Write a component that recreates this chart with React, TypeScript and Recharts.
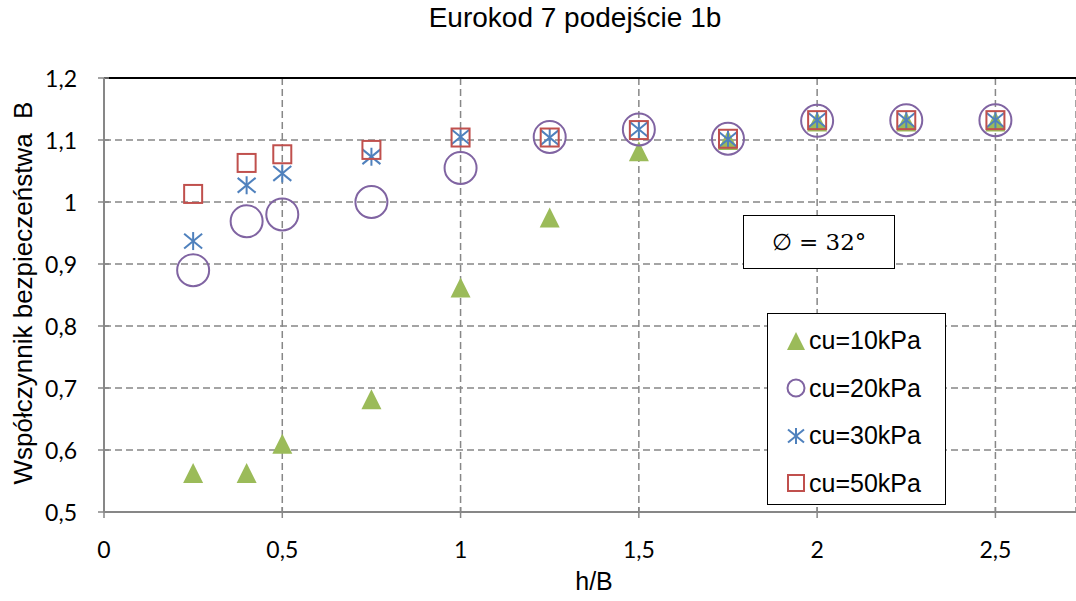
import {
  ScatterChart, Scatter, XAxis, YAxis, CartesianGrid, ReferenceLine,
} from 'recharts';

const hOverB = [0.25, 0.4, 0.5, 0.75, 1, 1.25, 1.5, 1.75, 2, 2.25, 2.5];
const cu10 = [0.563, 0.563, 0.61, 0.682, 0.862, 0.975, 1.082, 1.1, 1.13, 1.13, 1.13];
const cu20 = [0.89, 0.969, 0.98, 1.0, 1.055, 1.105, 1.117, 1.102, 1.131, 1.132, 1.132];
const cu30 = [0.937, 1.027, 1.046, 1.073, 1.105, 1.104, 1.117, 1.101, 1.132, 1.132, 1.132];
const cu50 = [1.013, 1.063, 1.077, 1.084, 1.104, 1.104, 1.116, 1.102, 1.132, 1.132, 1.132];

const xTicks = [0, 0.5, 1, 1.5, 2, 2.5];
const yTicks = [0.5, 0.6, 0.7, 0.8, 0.9, 1, 1.1, 1.2];

const GREEN = '#9BBB59';
const PURPLE = '#8064A2';
const BLUE = '#4F81BD';
const RED = '#C0504D';
const AXIS = '#878787';
const TICK_FONT = 'Lato, "Open Sans", sans-serif';
const ARIAL = '"Liberation Sans", Arial, sans-serif';

const toPoints = (ys: number[]) => hOverB.map((x, i) => ({ x, y: ys[i] }));
const fmt = (v: number) => String(v).replace('.', ',');

const Triangle = ({ cx, cy, s = 20 }: any) => (
  <path d={`M${cx},${cy - s / 2} L${cx + s / 2},${cy + s / 2} L${cx - s / 2},${cy + s / 2} Z`} fill={GREEN} />
);
const Circle = ({ cx, cy, r = 16 }: any) => (
  <circle cx={cx} cy={cy} r={r} fill="none" stroke={PURPLE} strokeWidth={2} />
);
// vertical bar plus an X, like the Excel star marker
const Star = ({ cx, cy, s = 9 }: any) => (
  <g stroke={BLUE} strokeWidth={2}>
    <line x1={cx} y1={cy - s} x2={cx} y2={cy + s} />
    <line x1={cx - s} y1={cy - s * 0.82} x2={cx + s} y2={cy + s * 0.82} />
    <line x1={cx - s} y1={cy + s * 0.82} x2={cx + s} y2={cy - s * 0.82} />
  </g>
);
const Square = ({ cx, cy, s = 18 }: any) => (
  <rect x={cx - s / 2} y={cy - s / 2} width={s} height={s} fill="none" stroke={RED} strokeWidth={2} />
);

const YTick = ({ x, y, payload }: any) => (
  <g>
    <line x1={x - 6} x2={x + 5} y1={y} y2={y} stroke={AXIS} strokeWidth={1.5} />
    <text x={x - 27} y={y} textAnchor="end" dominantBaseline="central" fontSize={23} fontFamily={TICK_FONT} fill="#000">
      {fmt(payload.value)}
    </text>
  </g>
);

const XTick = ({ x, y, payload }: any) => (
  <g>
    <line x1={x} x2={x} y1={y - 5} y2={y + 6} stroke={AXIS} strokeWidth={1.5} />
    <text x={x} y={y + 37} textAnchor="middle" dominantBaseline="central" fontSize={23} fontFamily={TICK_FONT} fill="#000">
      {fmt(payload.value)}
    </text>
  </g>
);

const legendItems = [
  { name: 'cu=10kPa', Icon: () => <Triangle cx={11} cy={11} s={18} /> },
  { name: 'cu=20kPa', Icon: () => <Circle cx={11} cy={11} r={8.5} /> },
  { name: 'cu=30kPa', Icon: () => <Star cx={11} cy={11} s={8} /> },
  { name: 'cu=50kPa', Icon: () => <Square cx={11} cy={11} s={16} /> },
];

export default function App() {
  return (
    <div style={{ position: 'absolute', left: 0, top: 0, width: 1076, height: 601, background: '#fff', overflow: 'hidden' }}>
      <div style={{
        position: 'absolute', left: 0, width: 1150, top: 2, textAlign: 'center',
        fontFamily: ARIAL, fontSize: 28,
      }}>
        Eurokod 7 podejście 1b
      </div>

      <ScatterChart width={1076} height={601} margin={{ top: 78, right: 0, left: 0, bottom: 0 }}>
        <CartesianGrid stroke={AXIS} strokeWidth={1.5} strokeDasharray="7 4" />
        <XAxis
          type="number" dataKey="x" domain={[0, 2.726]} ticks={xTicks} height={89}
          axisLine={{ stroke: AXIS, strokeWidth: 2 }} tickLine={false} tickSize={0} tickMargin={0}
          tick={<XTick />} interval={0} allowDataOverflow
        />
        <YAxis
          type="number" dataKey="y" domain={[0.5, 1.2]} ticks={yTicks} width={104}
          axisLine={{ stroke: AXIS, strokeWidth: 2 }} tickLine={false} tickSize={0} tickMargin={0}
          tick={<YTick />} interval={0} allowDataOverflow
        />
        <ReferenceLine y={1.2} stroke="#000" strokeWidth={2} />
        <Scatter name="cu=10kPa" data={toPoints(cu10)} shape={<Triangle />} isAnimationActive={false} />
        <Scatter name="cu=20kPa" data={toPoints(cu20)} shape={<Circle />} isAnimationActive={false} />
        <Scatter name="cu=30kPa" data={toPoints(cu30)} shape={<Star />} isAnimationActive={false} />
        <Scatter name="cu=50kPa" data={toPoints(cu50)} shape={<Square />} isAnimationActive={false} />
      </ScatterChart>

      <div style={{
        position: 'absolute', left: 743, top: 215, width: 152, height: 54, border: '1.5px solid #000',
        boxSizing: 'border-box', background: '#fff', display: 'flex', alignItems: 'center', justifyContent: 'center',
        fontFamily: '"DejaVu Serif", "Liberation Serif", serif', fontSize: 23,
      }}>
        ∅ = 32°
      </div>

      <div style={{
        position: 'absolute', left: 767, top: 313, width: 179, height: 192, border: '1.5px solid #000',
        background: '#fff', boxSizing: 'border-box', paddingTop: 3, paddingLeft: 17,
        fontFamily: ARIAL, fontSize: 25,
      }}>
        {legendItems.map(({ name, Icon }) => (
          <div key={name} style={{ display: 'flex', alignItems: 'center', height: 47.5 }}>
            <svg width={22} height={22} style={{ marginRight: 2 }}><Icon /></svg>
            <span>{name}</span>
          </div>
        ))}
      </div>

      <div style={{
        position: 'absolute', left: 0, width: 1188, top: 567, textAlign: 'center',
        fontFamily: ARIAL, fontSize: 25,
      }}>
        h/B
      </div>

      <div style={{
        position: 'absolute', left: 23, top: 293, transform: 'translate(-50%, -50%) rotate(-90deg)',
        whiteSpace: 'nowrap', fontFamily: ARIAL, fontSize: 26,
      }}>
        Współczynnik bezpieczeństwa&nbsp;&nbsp;B
      </div>
    </div>
  );
}
